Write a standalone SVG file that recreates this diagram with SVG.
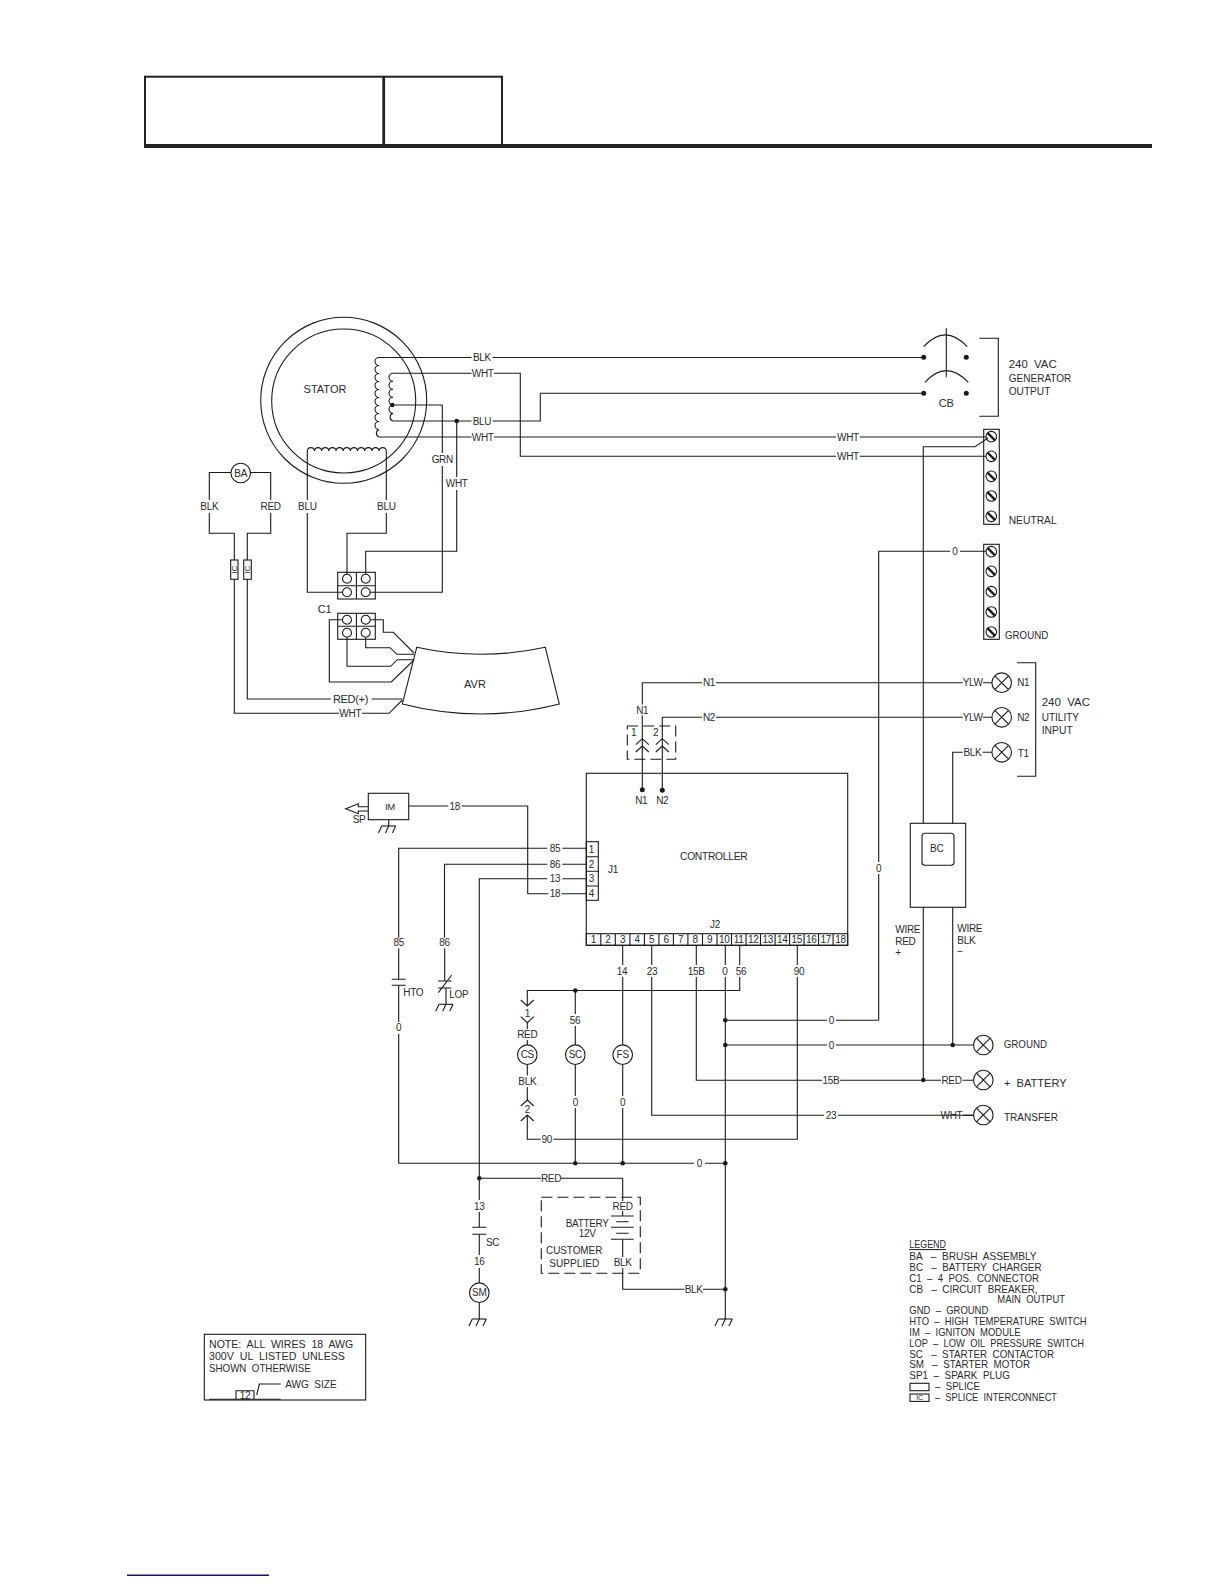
<svg xmlns="http://www.w3.org/2000/svg" width="1224" height="1584" viewBox="0 0 1224 1584">
<style>
text{font-family:"Liberation Sans",Arial,sans-serif;font-size:10px;letter-spacing:-.3px;fill:#2a2a2a;text-anchor:middle;dominant-baseline:central}
.l{text-anchor:start;dominant-baseline:auto}
.b,.g{font-size:11px;letter-spacing:0}
path,line,rect,circle,polyline,polygon{fill:none;stroke:#1a1a1a;stroke-width:1.1}
.dot{fill:#1a1a1a;stroke:none}
.hd{stroke:#222;stroke-width:2}
.dash{stroke-dasharray:11 5}
</style>
<defs>
<g id="screw"><circle r="5.3"/><line x1="-3.8" y1="-3.8" x2="3.8" y2="3.8" style="stroke-width:2.4"/></g>
<g id="lamp"><circle r="9.8"/><line x1="-6.9" y1="-6.9" x2="6.9" y2="6.9"/><line x1="-6.9" y1="6.9" x2="6.9" y2="-6.9"/></g>
<g id="gnd"><line x1="-7" y1="0" x2="7" y2="0"/><line x1="-7" y1="0" x2="-10.3" y2="7"/><line x1="0" y1="0" x2="-3.3" y2="7"/><line x1="7" y1="0" x2="3.7" y2="7"/></g>
<g id="term"><circle r="4.5"/></g>
<g id="up"><polyline points="-6.5,6 0,0 6.5,6"/></g>
<g id="down"><polyline points="-6.5,-6 0,0 6.5,-6"/></g>
</defs>
<g id="header">
<rect class="hd" x="145" y="76.7" width="357" height="69"/>
<line class="hd" x1="383.7" y1="76.7" x2="383.7" y2="145" style="stroke-width:2.8"/>
<line x1="144" y1="146" x2="1152" y2="146" style="stroke-width:4;stroke:#222"/>
</g>
<g id="connectors">
<path d="M379 357.5H471.5M492.7 357.5H923.7"/>
<path d="M393 373.3H471.5M494 373.3H520.3V456.3H836M860 456.3H986"/>
<path d="M393 421H471.5M492.7 421H540.3V393.3H923.7"/>
<path d="M379 437H471.5M494 437H836M860 437H986"/>
<path d="M392.3 405H442.3V453M442.3 466V592.3H370"/>
<path d="M456.7 421V477M456.7 490V551.3H365.7V574"/>
<path d="M307.3 451V500M307.3 513V592.3H342.5"/>
<path d="M386.3 451V500M386.3 513V533.3H347V574"/>
<path d="M231 472.5H209.3V500M209.3 513V533.3H234.3V560M234.3 579.3V713.3H339M362 713.3H389L402.3 700"/>
<path d="M250.7 472.5H270.7V500M270.7 513V533.3H247.3V560M247.3 579.3V699H330.7M371.7 699H402.3"/>
<path d="M370.3 619.7H383.3V632.3H393.3L414 653"/>
<path d="M365.7 637.2V647.7H390L397 654.3H414"/>
<path d="M347 637.2V666.3H390.7L397.3 659.7H414"/>
<path d="M342.5 619.7H329.3V682H391.3L414 660"/>
<path d="M878.7 1020.3V874M878.7 862V551.3H950M960 551.3H986"/>
<path d="M923.3 823.3V446.7H975L988 438"/>
<path d="M923.3 907.3V1080"/>
<path d="M952.7 907.3V1045"/>
<path d="M952.7 823.3V752.3H962.7M982.7 752.3H992"/>
<path d="M642.3 789.7V715.5M642.3 704.5V682.7H702M716 682.7H962.7M983 682.7H992"/>
<path d="M662.3 790.3V717.3H702M716 717.3H962.7M983 717.3H992"/>
<path d="M408.7 806H448.3M461.7 806H527.7V893.7H548.3M561.7 893.7H586.3"/>
<path d="M398.7 937.7V848.3H547.3M562.3 848.3H586.3"/>
<path d="M444.5 937.7V864.3H547.3M562.3 864.3H586.3"/>
<path d="M479.3 1178.3V878.7H547.3M562.3 878.7H586.3"/>
<path d="M479.3 1178.3V1200"/>
<path d="M398.7 948.3V979.3M398.7 985.3V1022M398.7 1034V1163.3H694M705 1163.3H725.3"/>
<path d="M444.7 948.3V981M446 988V1004.3"/>
<path d="M622.7 945.3V965M622.7 977V1045M622.7 1064.5V1096M622.7 1108V1163.3"/>
<path d="M651.7 945.3V965M651.7 977V1115.3H824M838 1115.3H973.5"/>
<path d="M696.3 945.3V965M696.3 977V1080.3H822M840 1080.3H941M962.7 1080.3H973.5"/>
<path d="M725.3 945.3V965M725.3 977V1319"/>
<path d="M739.7 945.3V965M739.7 977V990.5H527.3V1006"/>
<path d="M527.3 1022.5V1029M527.3 1040V1045M527.3 1064.5V1075.5M527.3 1087V1100"/>
<path d="M527.3 1115V1139.3H540.7M553.3 1139.3H797.3V977M797.3 965V945.3"/>
<path d="M575.3 990.5V1014M575.3 1026V1045M575.3 1064.5V1096M575.3 1108V1163.3"/>
<path d="M725.3 1020.3H827M836 1020.3H878.7"/>
<path d="M725.3 1045H827M836 1045H973.5"/>
<path d="M962.7 1115.3H973.5"/>
<path d="M479.3 1212V1227.3M479.3 1234.3V1255M479.3 1268V1283M479.3 1302.5V1319"/>
<path d="M479.3 1178.3H541M561 1178.3H622.7V1201M622.7 1211V1216"/>
<path d="M622.7 1239.5V1257M622.7 1268V1289.3H684.5M703 1289.3H725.3"/>
<circle class="dot" cx="456.7" cy="421" r="2.3"/>
<circle class="dot" cx="392.3" cy="405" r="2.3"/>
<circle class="dot" cx="575.3" cy="990.5" r="2.3"/>
<circle class="dot" cx="725.3" cy="1020.3" r="2.3"/>
<circle class="dot" cx="725.3" cy="1045" r="2.3"/>
<circle class="dot" cx="952.7" cy="1045" r="2.3"/>
<circle class="dot" cx="923.3" cy="1080" r="2.3"/>
<circle class="dot" cx="575.3" cy="1163.3" r="2.3"/>
<circle class="dot" cx="622.7" cy="1163.3" r="2.3"/>
<circle class="dot" cx="725.3" cy="1163.3" r="2.3"/>
<circle class="dot" cx="479.3" cy="1178.3" r="2.3"/>
<circle class="dot" cx="725.3" cy="1289.3" r="2.3"/>
<g id="wire-labels">
<text x="482" y="357.5">BLK</text><text x="482.7" y="373.3">WHT</text><text x="482" y="421">BLU</text><text x="482.7" y="437">WHT</text>
<text x="848" y="437">WHT</text><text x="848" y="456.3">WHT</text>
<text x="442.3" y="459.3">GRN</text><text x="456.7" y="483.3">WHT</text>
<text x="307.3" y="506">BLU</text><text x="386.3" y="506">BLU</text>
<text x="209.3" y="506">BLK</text><text x="270.7" y="506">RED</text>
<text x="350.3" y="713.3">WHT</text><text x="350.5" y="699" style="font-size:11px">RED(+)</text>
<text x="955" y="551.3">0</text><text x="709" y="682.7">N1</text><text x="709" y="717.3">N2</text><text x="642.3" y="710">N1</text>
<text x="972.7" y="682.7">YLW</text><text x="972.7" y="717.3">YLW</text><text x="972.5" y="752.3">BLK</text>
<text x="951.5" y="1080">RED</text><text x="951.5" y="1115">WHT</text>
<text x="454.8" y="806">18</text><text x="555" y="848.7">85</text><text x="555" y="864.3">86</text><text x="555" y="878.9">13</text><text x="555" y="893.7">18</text>
<text x="398.7" y="942.7">85</text><text x="444.5" y="942.7">86</text><text x="398.7" y="1027.7">0</text>
<text x="622" y="971">14</text><text x="652" y="971">23</text><text x="696.3" y="971">15B</text><text x="725" y="971">0</text><text x="741" y="971">56</text><text x="799" y="971">90</text>
<text x="527.3" y="1034.7">RED</text><text x="527.3" y="1081.3">BLK</text><text x="575" y="1020">56</text><text x="575.3" y="1102">0</text><text x="622.7" y="1102">0</text>
<text x="546.7" y="1139.3">90</text><text x="699.3" y="1163.3">0</text><text x="551" y="1178.3">RED</text><text x="479.3" y="1206">13</text><text x="479.3" y="1261.3">16</text>
<text x="622.7" y="1206">RED</text><text x="622.7" y="1262.3">BLK</text><text x="693.7" y="1289.3">BLK</text>
<text x="831.5" y="1020.3">0</text><text x="831.5" y="1045">0</text><text x="831" y="1080.3">15B</text><text x="831" y="1115.3">23</text><text x="878.7" y="868.3">0</text>
<text class="l" x="895.3" y="933.3">WIRE</text><text class="l" x="895.3" y="945.3">RED</text><text class="l" x="895.3" y="955.5">+</text>
<text class="l" x="957.3" y="932.3">WIRE</text><text class="l" x="957.3" y="944">BLK</text><text class="l" x="957.3" y="955">−</text>
</g>
</g>
<g id="stator">
<circle cx="343.7" cy="400.3" r="83"/><circle cx="343.7" cy="401" r="72"/>
<path d="M379 357.5a4 4 0 0 0 0 8a4 4 0 0 0 0 8a4 4 0 0 0 0 8a4 4 0 0 0 0 8a4 4 0 0 0 0 8a4 4 0 0 0 0 8a4 4 0 0 0 0 8a4 4 0 0 0 0 8a4 4 0 0 0 0 8a4 4 0 0 0 0 7.5"/>
<path d="M393 373.3a4 4 0 0 0 0 8a4 4 0 0 0 0 8a4 4 0 0 0 0 8a4 4 0 0 0 0 8a4 4 0 0 0 0 8a4 4 0 0 0 0 7.7"/>
<path d="M307.3 451a3.6 3.6 0 0 1 7.18 0a3.6 3.6 0 0 1 7.18 0a3.6 3.6 0 0 1 7.18 0a3.6 3.6 0 0 1 7.18 0a3.6 3.6 0 0 1 7.18 0a3.6 3.6 0 0 1 7.18 0a3.6 3.6 0 0 1 7.18 0a3.6 3.6 0 0 1 7.18 0a3.6 3.6 0 0 1 7.18 0a3.6 3.6 0 0 1 7.18 0a3.6 3.6 0 0 1 7.18 0"/>
<text x="325" y="389" class="b">STATOR</text>
</g>
<g id="ba"><circle cx="240.7" cy="473" r="9.8"/><text x="240.7" y="473">BA</text></g>
<g id="ic1"><rect x="230.7" y="560" width="7.3" height="19.3"/><text transform="translate(234.4 569.7) rotate(-90)" style="font-size:8px">IC</text></g>
<g id="ic2"><rect x="243.7" y="560" width="7.6" height="19.3"/><text transform="translate(247.5 569.7) rotate(-90)" style="font-size:8px">IC</text></g>
<g id="conn-a">
<rect x="337.7" y="572.3" width="37.6" height="26.7"/><line x1="356.4" y1="572.3" x2="356.4" y2="599"/><line x1="337.7" y1="585.7" x2="375.3" y2="585.7"/>
<use href="#term" x="347" y="578.7"/><use href="#term" x="365.7" y="578.7"/><use href="#term" x="347" y="592.3"/><use href="#term" x="365.7" y="592.3"/>
</g>
<g id="c1">
<rect x="337.7" y="613.3" width="37.6" height="26"/><line x1="356.4" y1="613.3" x2="356.4" y2="639.3"/><line x1="337.7" y1="626.3" x2="375.3" y2="626.3"/>
<use href="#term" x="347" y="619.7"/><use href="#term" x="365.7" y="619.7"/><use href="#term" x="347" y="632.7"/><use href="#term" x="365.7" y="632.7"/>
<text x="324.7" y="608.7" class="b">C1</text>
</g>
<g id="avr"><path d="M416.7 647.3Q481 661.3 545.3 647.3L559.3 704Q481 724 402.3 704Z"/><text x="475" y="684.3" class="b">AVR</text></g>
<g id="cb">
<circle class="dot" cx="923.7" cy="357.3" r="2.5"/><circle class="dot" cx="966.3" cy="357.3" r="2.5"/><circle class="dot" cx="923.7" cy="393.3" r="2.5"/><circle class="dot" cx="966.3" cy="393.3" r="2.5"/>
<path d="M923.7 346.7Q945 323 967.3 346.7"/><path d="M925 382.3Q946 359 968.3 382.3"/>
<line x1="946.3" y1="328.3" x2="946.3" y2="377.3"/>
<text x="946.3" y="403.3" class="b">CB</text>
<polyline points="979.3,338.3 998.3,338.3 998.3,416.3 979.3,416.3"/>
<text class="l b" x="1008.7" y="368.3" xml:space="preserve" textLength="48" lengthAdjust="spacingAndGlyphs">240  VAC</text><text class="l b" x="1008.7" y="382" textLength="62.7" lengthAdjust="spacingAndGlyphs">GENERATOR</text><text class="l b" x="1008.7" y="394.7" textLength="41.7" lengthAdjust="spacingAndGlyphs">OUTPUT</text>
</g>
<g id="neutral">
<rect x="983.7" y="429.3" width="15.6" height="95"/>
<use href="#screw" x="991.3" y="436.7"/><use href="#screw" x="991.3" y="456.3"/><use href="#screw" x="991.3" y="476.3"/><use href="#screw" x="991.3" y="496"/><use href="#screw" x="991.3" y="516.3"/>
<text class="l b" x="1008.7" y="524" textLength="48" lengthAdjust="spacingAndGlyphs">NEUTRAL</text>
</g>
<g id="ground-bar">
<rect x="983.7" y="544.3" width="15.6" height="95"/>
<use href="#screw" x="991.3" y="551.7"/><use href="#screw" x="991.3" y="571.3"/><use href="#screw" x="991.3" y="591.7"/><use href="#screw" x="991.3" y="612"/><use href="#screw" x="991.3" y="632"/>
<text class="l b" x="1005" y="639" textLength="43.3" lengthAdjust="spacingAndGlyphs">GROUND</text>
</g>
<g id="utility">
<use href="#lamp" x="1001.7" y="682.7"/><use href="#lamp" x="1001.7" y="717.3"/><use href="#lamp" x="1001.7" y="752.3"/>
<text x="1023.3" y="682.7">N1</text><text x="1023.3" y="717.3">N2</text><text x="1023.3" y="753">T1</text>
<polyline points="1017,662.7 1035.7,662.7 1035.7,776.3 1017,776.3"/>
<text class="l b" x="1041.7" y="706" xml:space="preserve" textLength="48.3" lengthAdjust="spacingAndGlyphs">240  VAC</text><text class="l b" x="1041.7" y="721" textLength="37.3" lengthAdjust="spacingAndGlyphs">UTILITY</text><text class="l b" x="1041.7" y="734" textLength="31" lengthAdjust="spacingAndGlyphs">INPUT</text>
</g>
<g id="bc">
<rect x="910.3" y="823.3" width="55.4" height="84"/><rect x="922" y="833.3" width="32" height="32" rx="3"/>
<text x="936.7" y="848.3">BC</text>
</g>
<g id="terminals">
<use href="#lamp" x="983.3" y="1045"/><use href="#lamp" x="983.3" y="1080"/><use href="#lamp" x="983.3" y="1115"/>
<text class="l b" x="1003.7" y="1048" textLength="43.3" lengthAdjust="spacingAndGlyphs">GROUND</text><text class="l b" x="1004" y="1087.3" xml:space="preserve" textLength="62.7" lengthAdjust="spacingAndGlyphs">+  BATTERY</text><text class="l b" x="1004" y="1121" textLength="54" lengthAdjust="spacingAndGlyphs">TRANSFER</text>
</g>
<g id="plug">
<rect class="dash" x="627.3" y="726" width="48.4" height="33.3"/>
<text x="633.7" y="732.7">1</text><text x="655.7" y="732.7">2</text>
<use href="#up" x="642.3" y="738.7"/><use href="#up" x="642.3" y="746"/><use href="#up" x="662.3" y="738.7"/><use href="#up" x="662.3" y="746"/>
</g>
<g id="controller">
<rect x="586.3" y="773.3" width="261.4" height="172"/>
<circle class="dot" cx="642.3" cy="789.7" r="2.5"/><circle class="dot" cx="662.3" cy="790.3" r="2.5"/>
<text x="641.3" y="800.7">N1</text><text x="662.3" y="800.7">N2</text>
<text x="713.7" y="856" textLength="67.3" lengthAdjust="spacingAndGlyphs">CONTROLLER</text>
<rect x="586.3" y="841.7" width="12" height="58.6"/>
<path d="M586.3 856.7H598.3M586.3 871.3H598.3M586.3 886H598.3"/>
<text x="591.3" y="849.3">1</text><text x="591.3" y="864">2</text><text x="591.3" y="878.7">3</text><text x="591.3" y="893.3">4</text>
<text x="613" y="869.7">J1</text><text x="715" y="924.3">J2</text>
<rect x="586.3" y="933.7" width="261.4" height="11.6"/>
<path d="M600.8 933.7v11.6M615.3 933.7v11.6M629.9 933.7v11.6M644.4 933.7v11.6M658.9 933.7v11.6M673.4 933.7v11.6M687.9 933.7v11.6M702.5 933.7v11.6M717 933.7v11.6M731.5 933.7v11.6M746 933.7v11.6M760.5 933.7v11.6M775.1 933.7v11.6M789.6 933.7v11.6M804.1 933.7v11.6M818.6 933.7v11.6M833.1 933.7v11.6"/>
<text x="593.5" y="939.5">1</text><text x="608" y="939.5">2</text><text x="622.6" y="939.5">3</text><text x="637.1" y="939.5">4</text><text x="651.6" y="939.5">5</text><text x="666.1" y="939.5">6</text><text x="680.6" y="939.5">7</text><text x="695.2" y="939.5">8</text><text x="709.7" y="939.5">9</text><text x="724.2" y="939.5">10</text><text x="738.7" y="939.5">11</text><text x="753.2" y="939.5">12</text><text x="767.8" y="939.5">13</text><text x="782.3" y="939.5">14</text><text x="796.8" y="939.5">15</text><text x="811.3" y="939.5">16</text><text x="825.8" y="939.5">17</text><text x="840.4" y="939.5">18</text>
</g>
<g id="im">
<rect x="368.3" y="793.3" width="40.4" height="26.4"/><text x="390" y="806.7" style="font-size:9.5px">IM</text>
<polyline points="368.3,806.7 358.3,806.7 358.3,803.7 345.7,808.7 358.3,813.7 358.3,811 368.3,811"/>
<text x="359" y="819">SP</text>
<line x1="388.7" y1="819.7" x2="388.7" y2="826"/><use href="#gnd" x="388.7" y="826"/>
</g>
<g id="hto"><path d="M391.7 979.3H405.7M391.7 985.3H405.7"/><text class="l" x="403.3" y="996">HTO</text></g>
<g id="lop"><path d="M438 981H451.5M438 988H451.5M438.4 992.7L451.7 975"/><text class="l" x="449.3" y="997.5">LOP</text><use href="#gnd" x="446" y="1004.3"/></g>
<g id="cs">
<use href="#down" x="527.3" y="1006"/><text x="527.3" y="1013.7">1</text><use href="#down" x="527.3" y="1022.7"/>
<circle cx="527.3" cy="1054.7" r="9.8"/><text x="527.3" y="1054.7">CS</text>
<use href="#up" x="527.3" y="1100"/><text x="527.3" y="1109">2</text><use href="#up" x="527.3" y="1115"/>
</g>
<g id="sc"><circle cx="575.3" cy="1054.7" r="9.8"/><text x="575.3" y="1054.7">SC</text></g>
<g id="fs"><circle cx="622.7" cy="1054.7" r="9.8"/><text x="622.7" y="1054.7">FS</text></g>
<g id="sc-contact"><path d="M472.3 1227.3H486.3M472.3 1234.3H486.3"/><text class="l" x="486" y="1242.3" style="dominant-baseline:central">SC</text></g>
<g id="sm"><circle cx="479.3" cy="1292.7" r="9.8"/><text x="479.3" y="1292.7">SM</text><use href="#gnd" x="479.3" y="1319"/></g>
<use id="frame-ground" href="#gnd" x="725.3" y="1319"/>
<g id="battery">
<rect class="dash" x="541.3" y="1197.3" width="99" height="76"/>
<path d="M611 1216H633.6M616.3 1221.7H628.6M611 1227.3H633.6M616.3 1233.3H628.6M611 1239.3H633.6"/>
<text class="l" x="565.7" y="1227" textLength="43" lengthAdjust="spacingAndGlyphs">BATTERY</text><text class="l" x="578.7" y="1237" textLength="17" lengthAdjust="spacingAndGlyphs">12V</text>
<text class="l b" x="546" y="1254.3" textLength="56.3" lengthAdjust="spacingAndGlyphs">CUSTOMER</text><text class="l b" x="549.3" y="1266.5" textLength="50" lengthAdjust="spacingAndGlyphs">SUPPLIED</text>
</g>
<g id="note">
<rect x="204.3" y="1334.3" width="161.4" height="65.7"/>
<text class="l b" x="209" y="1348.3" xml:space="preserve" textLength="144.3" lengthAdjust="spacingAndGlyphs">NOTE:  ALL  WIRES  18  AWG</text>
<text class="l b" x="209" y="1360.3" xml:space="preserve" textLength="136" lengthAdjust="spacingAndGlyphs">300V  UL  LISTED  UNLESS</text>
<text class="l b" x="209" y="1372.3" xml:space="preserve" textLength="101.7" lengthAdjust="spacingAndGlyphs">SHOWN  OTHERWISE</text>
<text class="l b" x="285.3" y="1388.3" xml:space="preserve" textLength="51.3" lengthAdjust="spacingAndGlyphs">AWG  SIZE</text>
<path d="M209 1399.3H280.7M236 1399.3V1390.7H254V1399.3M256.7 1395L259.3 1384H280.7"/>
<text x="245" y="1395">12</text>
</g>
<g id="legend">
<text class="l g" x="909.3" y="1248" text-decoration="underline" textLength="36.7" lengthAdjust="spacingAndGlyphs">LEGEND</text>
<text class="l g" x="909.3" y="1260" xml:space="preserve" textLength="127.3" lengthAdjust="spacingAndGlyphs">BA   –  BRUSH  ASSEMBLY</text>
<text class="l g" x="909.3" y="1271" xml:space="preserve" textLength="132.3" lengthAdjust="spacingAndGlyphs">BC   –  BATTERY  CHARGER</text>
<text class="l g" x="909.3" y="1282" xml:space="preserve" textLength="129.7" lengthAdjust="spacingAndGlyphs">C1  –  4  POS.  CONNECTOR</text>
<text class="l g" x="909.3" y="1292.7" xml:space="preserve" textLength="128.3" lengthAdjust="spacingAndGlyphs">CB   –  CIRCUIT  BREAKER,</text>
<text class="l g" x="997.3" y="1303.3" xml:space="preserve" textLength="67.7" lengthAdjust="spacingAndGlyphs">MAIN  OUTPUT</text>
<text class="l g" x="909.3" y="1314.3" xml:space="preserve" textLength="79" lengthAdjust="spacingAndGlyphs">GND  –  GROUND</text>
<text class="l g" x="909.3" y="1325" xml:space="preserve" textLength="177.3" lengthAdjust="spacingAndGlyphs">HTO  –  HIGH  TEMPERATURE  SWITCH</text>
<text class="l g" x="909.3" y="1336" xml:space="preserve" textLength="111.3" lengthAdjust="spacingAndGlyphs">IM  –  IGNITON  MODULE</text>
<text class="l g" x="909.3" y="1346.7" xml:space="preserve" textLength="174.7" lengthAdjust="spacingAndGlyphs">LOP  –  LOW  OIL  PRESSURE  SWITCH</text>
<text class="l g" x="909.3" y="1357.7" xml:space="preserve" textLength="144.7" lengthAdjust="spacingAndGlyphs">SC   –  STARTER  CONTACTOR</text>
<text class="l g" x="909.3" y="1368.3" xml:space="preserve" textLength="120.7" lengthAdjust="spacingAndGlyphs">SM   –  STARTER  MOTOR</text>
<text class="l g" x="909.3" y="1379.3" xml:space="preserve" textLength="100.7" lengthAdjust="spacingAndGlyphs">SP1  –  SPARK  PLUG</text>
<rect x="910" y="1383.3" width="19" height="7.4"/>
<text class="l g" x="935" y="1390" xml:space="preserve" textLength="45" lengthAdjust="spacingAndGlyphs">–  SPLICE</text>
<rect x="910" y="1394" width="19" height="7.4"/>
<text x="919.5" y="1397.7" style="font-size:7px">IC</text>
<text class="l g" x="935" y="1401" xml:space="preserve" textLength="122" lengthAdjust="spacingAndGlyphs">–  SPLICE  INTERCONNECT</text>
</g>
<line id="footnote-rule" x1="127" y1="1575.3" x2="269" y2="1575.3" style="stroke:#10108a;stroke-width:1.4"/>
</svg>
